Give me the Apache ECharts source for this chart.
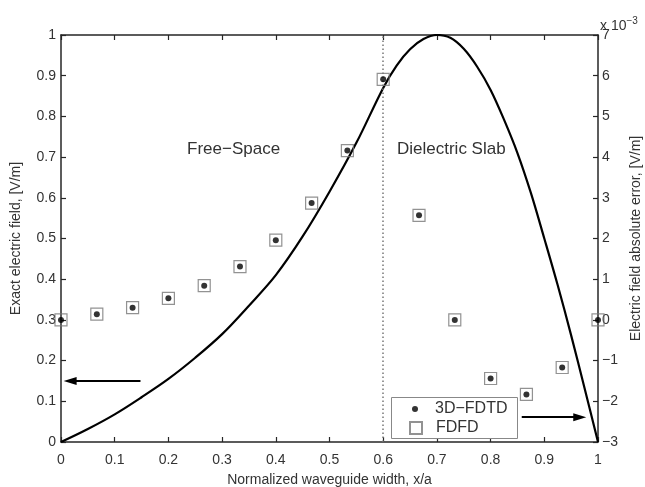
<!DOCTYPE html>
<html><head><meta charset="utf-8">
<script src="https://cdn.jsdelivr.net/npm/echarts@6/dist/echarts.min.js"></script>
<style>html,body{margin:0;padding:0;background:#fff}#c{width:645px;height:487px}</style>
</head><body><div id="c"></div>
<script>
// Exact electric field (left axis, V/m) vs normalized width x/a
const fieldX = [0,0.05,0.1,0.15,0.2,0.25,0.3,0.35,0.4,0.45,0.5,0.55,0.6,0.625,0.65,0.675,0.7,0.725,0.75,0.775,0.8,0.825,0.85,0.875,0.9,0.925,0.95,0.975,1.0];
const fieldY = [0,0.032,0.068,0.11,0.155,0.207,0.265,0.335,0.41,0.505,0.615,0.735,0.87,0.925,0.965,0.99,1.0,0.993,0.966,0.922,0.865,0.792,0.71,0.612,0.5,0.385,0.262,0.132,0];
// Absolute error (right axis, x 10^-3 V/m)
const errX = [0,0.0667,0.1333,0.2,0.2667,0.3333,0.4,0.4667,0.5333,0.6,0.6667,0.7333,0.8,0.8667,0.9333,1.0];
const fdtdErr = [0.0,0.14,0.30,0.53,0.84,1.31,1.96,2.87,4.16,5.91,2.57,0.0,-1.44,-1.83,-1.17,0.0];
const fdfdErr = [0.0,0.14,0.30,0.53,0.84,1.31,1.96,2.87,4.16,5.91,2.57,0.0,-1.44,-1.83,-1.17,0.0];
const seriesNames = ['3D\u2212FDTD','FDFD'];
const leftAxisName = 'Exact electric field, [V/m]';
const rightAxisName = 'Electric field absolute error, [V/m]';
const xAxisName = 'Normalized waveguide width, x/a';

const FONT = '"Liberation Sans", Arial, Helvetica, sans-serif';
const axisCol = '#262626';
const txtCol = '#333';
const chart = echarts.init(document.getElementById('c'), null, {renderer:'canvas'});
const minus = v => String(v).replace('-', '\u2212');

chart.setOption({
  animation:false,
  backgroundColor:'#fff',
  textStyle:{fontFamily:FONT},
  grid:{left:61,right:47,top:35,bottom:45,outerBoundsMode:'none',containLabel:false},
  xAxis:[{
    type:'value',min:0,max:1,interval:0.1,position:'bottom',
    name:xAxisName,nameLocation:'middle',nameGap:31,
    nameTextStyle:{fontSize:14,color:txtCol,fontFamily:FONT},
    axisLine:{onZero:false,lineStyle:{color:axisCol,width:1.5}},
    axisTick:{inside:true,length:5,lineStyle:{color:axisCol,width:1.2}},
    axisLabel:{fontSize:14,color:txtCol,margin:11,fontFamily:FONT},
    splitLine:{show:false}
  },{
    type:'value',min:0,max:1,interval:0.1,position:'top',
    axisLine:{onZero:false,lineStyle:{color:axisCol,width:1.5}},
    axisTick:{inside:true,length:5,lineStyle:{color:axisCol,width:1.2}},
    axisLabel:{show:false},splitLine:{show:false}
  }],
  yAxis:[{
    type:'value',min:0,max:1,interval:0.1,position:'left',
    name:leftAxisName,nameLocation:'middle',nameGap:38,nameRotate:90,
    nameTextStyle:{fontSize:14,color:txtCol,fontFamily:FONT},
    axisLine:{show:true,onZero:false,lineStyle:{color:axisCol,width:1.5}},
    axisTick:{show:true,inside:true,length:5,lineStyle:{color:axisCol,width:1.2}},
    axisLabel:{fontSize:14,color:txtCol,margin:5,fontFamily:FONT},
    splitLine:{show:false}
  },{
    type:'value',min:-3,max:7,interval:1,position:'right',
    name:rightAxisName,nameLocation:'middle',nameGap:24,nameRotate:90,
    nameTextStyle:{fontSize:14,color:txtCol,fontFamily:FONT},
    axisLine:{show:true,onZero:false,lineStyle:{color:axisCol,width:1.5}},
    axisTick:{show:true,inside:true,length:5,lineStyle:{color:axisCol,width:1.2}},
    axisLabel:{fontSize:14,color:txtCol,margin:4,fontFamily:FONT,formatter:minus},
    splitLine:{show:false}
  }],
  legend:[{
    data:[{name:seriesNames[0],icon:'circle'}],z:70,
    left:412,top:401,orient:'vertical',itemWidth:6,itemHeight:6,itemGap:0,
    textStyle:{fontSize:16,color:txtCol,fontFamily:FONT,padding:[0,0,0,12]},padding:0,selectedMode:false
  },{
    data:[{name:seriesNames[1],icon:'path://M0,0 L10,0 L10,10 L0,10 Z'}],z:70,
    left:409,top:420,orient:'vertical',itemWidth:12,itemHeight:12,itemGap:0,
    textStyle:{fontSize:16,color:txtCol,fontFamily:FONT,padding:[0,0,0,9]},padding:0,selectedMode:false
  }],
  graphic:[
    {type:'rect',left:391,top:397,shape:{width:126,height:41},style:{fill:'#fff',stroke:'#888',lineWidth:1},z:50},
    {type:'text',left:187,top:141,style:{text:'Free\u2212Space',fill:txtCol,font:'17px '+FONT},z:60},
    {type:'text',left:397,top:141,style:{text:'Dielectric Slab',fill:txtCol,font:'17px '+FONT},z:60},
    {type:'text',left:600,top:16,style:{
      text:'x 10{s|\u22123}',font:'14px '+FONT,fill:txtCol,
      rich:{s:{fontSize:10,verticalAlign:'top',padding:[0,0,10,0],fill:txtCol,fontFamily:FONT}}
    },z:60}
  ],
  series:[{
    name:'field',type:'line',xAxisIndex:0,yAxisIndex:0,
    data:fieldX.map((x,i)=>[x,fieldY[i]]),
    showSymbol:false,smooth:0.35,
    lineStyle:{color:'#000',width:2.2},
    z:3,
    markLine:{
      silent:true,animation:false,
      label:{show:false},
      symbol:['none','none'],
      data:[
        [{coord:[0.6,0],lineStyle:{color:'#777',width:1.5,type:[1.5,2.5]}},{coord:[0.6,1]}],
        [{coord:[0.148,0.15],lineStyle:{color:'#000',width:1.8,type:'solid'},symbol:'none'},
         {coord:[0.017,0.15],symbol:'path://M5,0 L10,18 L0,18 Z',symbolSize:[8,13]}],
        [{coord:[0.858,0.061],lineStyle:{color:'#000',width:1.8,type:'solid'},symbol:'none'},
         {coord:[0.966,0.061],symbol:'path://M5,0 L10,18 L0,18 Z',symbolSize:[8,13]}]
      ]
    }
  },{
    name:seriesNames[1],type:'scatter',xAxisIndex:0,yAxisIndex:1,
    data:errX.map((x,i)=>[x,fdfdErr[i]]),
    symbol:'rect',symbolSize:12,
    itemStyle:{color:'rgba(255,255,255,0)',borderColor:'#777',borderWidth:1.2},
    z:4
  },{
    name:seriesNames[0],type:'scatter',xAxisIndex:0,yAxisIndex:1,
    data:errX.map((x,i)=>[x,fdtdErr[i]]),
    symbol:'circle',symbolSize:6,
    itemStyle:{color:'#000'},
    z:5
  }]
});
</script></body></html>
